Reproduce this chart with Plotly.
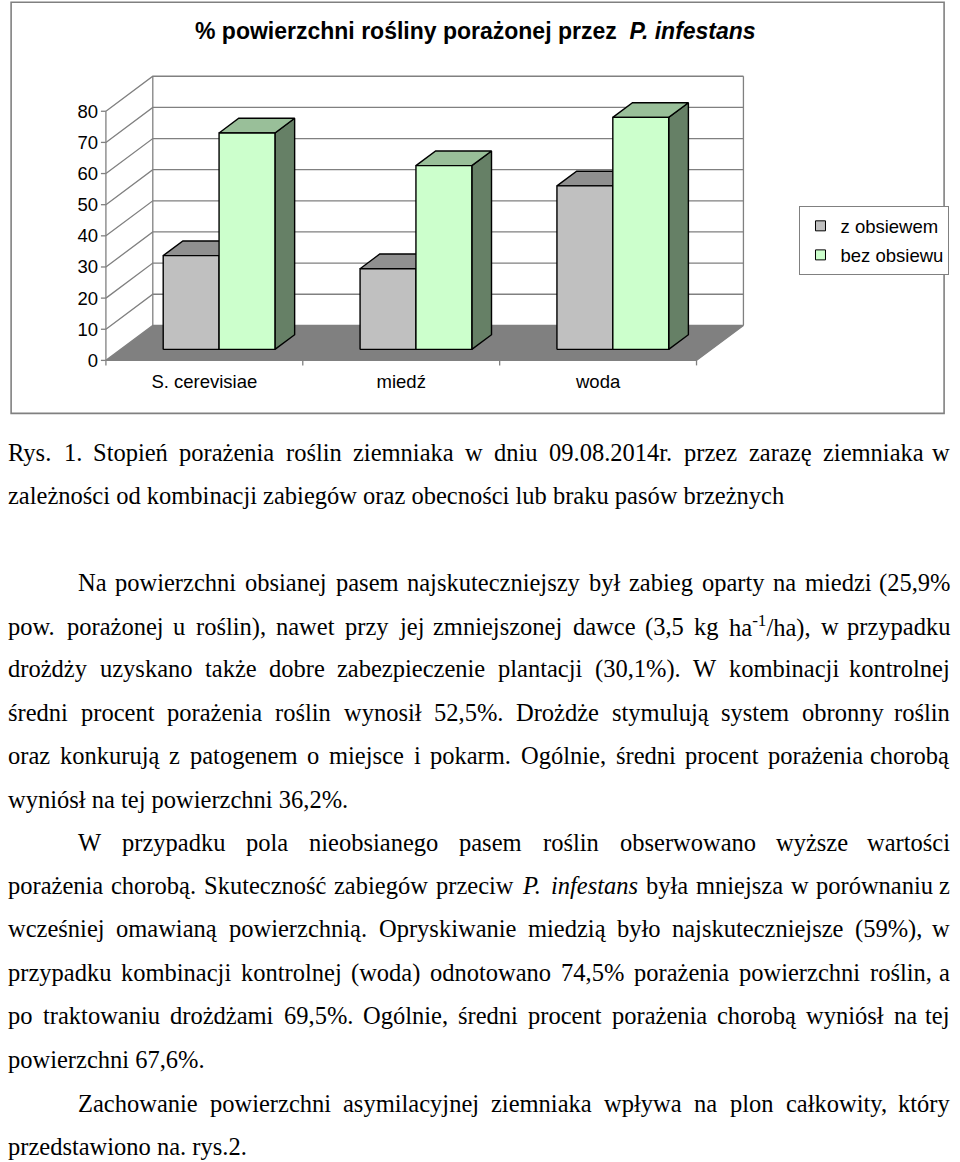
import re
import plotly.graph_objects as go

# ---------------- data ----------------
categories = ["S. cerevisiae", "miedź", "woda"]
series_names = ["z obsiewem", "bez obsiewu"]
z_obsiewem = [30.1, 25.9, 52.5]
bez_obsiewu = [69.5, 59.0, 74.5]
y_ticks = [0, 10, 20, 30, 40, 50, 60, 70, 80]
title_text = "<b>% powierzchni rośliny porażonej przez\u00a0 <i>P. infestans</i></b>"

# body text: (text, indented, justified)
body_lines = [
    ("Rys. 1. Stopień porażenia roślin ziemniaka w dniu 09.08.2014r. przez zarazę ziemniaka w", False, True),
    ("zależności od kombinacji zabiegów oraz obecności lub braku pasów brzeżnych", False, False),
    ("Na powierzchni obsianej pasem najskuteczniejszy był zabieg oparty na miedzi (25,9%", True, True),
    ("pow. porażonej u roślin), nawet przy jej zmniejszonej dawce (3,5 kg ha<sup>-1</sup>/ha), w przypadku", False, True),
    ("drożdży uzyskano także dobre zabezpieczenie plantacji (30,1%). W kombinacji kontrolnej", False, True),
    ("średni procent porażenia roślin wynosił 52,5%. Drożdże stymulują system obronny roślin", False, True),
    ("oraz konkurują z patogenem o miejsce i pokarm. Ogólnie, średni procent porażenia chorobą", False, True),
    ("wyniósł na tej powierzchni 36,2%.", False, False),
    ("W przypadku pola nieobsianego pasem roślin obserwowano wyższe wartości", True, True),
    ("porażenia chorobą. Skuteczność zabiegów przeciw <i>P.</i> <i>infestans</i> była mniejsza w porównaniu z", False, True),
    ("wcześniej omawianą powierzchnią. Opryskiwanie miedzią było najskuteczniejsze (59%), w", False, True),
    ("przypadku kombinacji kontrolnej (woda) odnotowano 74,5% porażenia powierzchni roślin, a", False, True),
    ("po traktowaniu drożdżami 69,5%. Ogólnie, średni procent porażenia chorobą wyniósł na tej", False, True),
    ("powierzchni 67,6%.", False, False),
    ("Zachowanie powierzchni asymilacyjnej ziemniaka wpływa na plon całkowity, który", True, True),
    ("przedstawiono na. rys.2.", False, False),
]
line_centers_px = [452, 495, 582, 626, 668, 712, 755, 799, 842, 885, 928, 972, 1015, 1059, 1103, 1146]

# ---------------- styles / geometry ----------------
W_FIG, H_FIG = 960, 1162
PX_PER_X = 197.3       # pixels per category
PX_PER_Y = 3.1125      # pixels per value unit
X0_PX, Y0_PX = 106, 360
DX, DY = 0.2382, 11.245   # 3D depth of the floor
BAR_W = 0.2838
F0, F1 = 0.314, 0.734     # depth fractions of bar front/back
XMIN, XMAX = -0.03, len(categories) + DX + 0.008
YMIN, YMAX = -1.8, max(y_ticks) + DY + 0.4

ML = X0_PX + XMIN * PX_PER_X
MR = W_FIG - (X0_PX + XMAX * PX_PER_X)
MT = Y0_PX - YMAX * PX_PER_Y
MB = H_FIG - (Y0_PX - YMIN * PX_PER_Y)
PW = W_FIG - ML - MR
PH = H_FIG - MT - MB


def pxx(px):
    return (px - ML) / PW


def pxy(py):
    return (H_FIG - MB - py) / PH


GRID = "#808080"
FLOOR = "#808080"
SERIES_COLORS = [
    dict(front="#C0C0C0", top="#909090", side="#606060"),
    dict(front="#CCFFCC", top="#99BF99", side="#668066"),
]
SANS = "Liberation Sans"
SERIF = "Liberation Serif"
BODY_SIZE = 24.5
CHART_SIZE = 18.5

fig = go.Figure()

ncat = len(categories)

# floor
fig.add_trace(go.Scatter(
    x=[0, ncat, ncat + DX, DX, 0], y=[0, 0, DY, DY, 0],
    fill="toself", fillcolor=FLOOR, mode="lines", line=dict(width=0),
    showlegend=False, hoverinfo="skip"))

# walls: side lines, back gridlines, back wall verticals, axes
gx, gy = [], []
for v in y_ticks:
    gx += [0, DX, ncat + DX, None]
    gy += [v, v + DY, v + DY, None]
gx += [DX, DX, None, ncat + DX, ncat + DX, None]
gy += [DY, max(y_ticks) + DY, None, DY, max(y_ticks) + DY, None]
# front axes
gx += [0, 0, None, 0, ncat, ncat + DX, None]
gy += [max(y_ticks), 0, None, 0, 0, DY, None]
# y tick marks
tick_dx = 5 / PX_PER_X
for v in y_ticks:
    gx += [-tick_dx, 0, None]
    gy += [v, v, None]
# x boundary tick marks
tick_dy = 5 / PX_PER_Y
for b in range(ncat + 1):
    gx += [b, b, None]
    gy += [0, -tick_dy, None]
fig.add_trace(go.Scatter(x=gx, y=gy, mode="lines", line=dict(color=GRID, width=1.3),
                         showlegend=False, hoverinfo="skip"))

# bars
series_values = [z_obsiewem, bez_obsiewu]
dd = F1 - F0
ex, ey = dd * DX, dd * DY
for i in range(ncat):
    for k, vals in enumerate(series_values):
        v = vals[i]
        col = SERIES_COLORS[k]
        x0 = i + 0.5 + (k - 1) * BAR_W + F0 * DX
        x1 = x0 + BAR_W
        yb = F0 * DY
        yt = yb + v
        faces = [
            ([x1, x1 + ex, x1 + ex, x1, x1], [yb, yb + ey, yt + ey, yt, yb], col["side"]),
            ([x0, x1, x1 + ex, x0 + ex, x0], [yt, yt, yt + ey, yt + ey, yt], col["top"]),
            ([x0, x1, x1, x0, x0], [yb, yb, yt, yt, yb], col["front"]),
        ]
        for fx, fy, fc in faces:
            fig.add_trace(go.Scatter(
                x=fx, y=fy, fill="toself", fillcolor=fc, mode="lines",
                line=dict(color="black", width=1.4), showlegend=False,
                name=series_names[k], hoverinfo="skip"))

# legend entries
for k, nm in enumerate(series_names):
    fig.add_trace(go.Scatter(
        x=[None], y=[None], mode="markers", name=nm, legendgroup=nm,
        marker=dict(symbol="square", size=10, color=SERIES_COLORS[k]["front"],
                    line=dict(color="black", width=1))))

# ---------------- text width helpers (Times metrics) ----------------
ROMAN = {' ': 250, 'a': 444, 'b': 500, 'c': 444, 'd': 500, 'e': 444, 'f': 333, 'g': 500,
         'h': 500, 'i': 278, 'j': 278, 'k': 500, 'l': 278, 'm': 778, 'n': 500, 'o': 500,
         'p': 500, 'q': 500, 'r': 333, 's': 389, 't': 278, 'u': 500, 'v': 500, 'w': 722,
         'x': 500, 'y': 500, 'z': 444, 'A': 722, 'B': 667, 'C': 667, 'D': 722, 'E': 611,
         'F': 556, 'G': 722, 'H': 722, 'I': 333, 'J': 389, 'K': 722, 'L': 611, 'M': 889,
         'N': 722, 'O': 722, 'P': 556, 'Q': 722, 'R': 667, 'S': 556, 'T': 611, 'U': 722,
         'V': 722, 'W': 944, 'X': 722, 'Y': 722, 'Z': 611, '.': 250, ',': 250, '(': 333,
         ')': 333, '%': 833, '/': 278, '-': 333, ':': 278, 'ł': 278, 'Ł': 611}
for d in "0123456789":
    ROMAN[d] = 500
ACC = {'ą': 'a', 'ę': 'e', 'ń': 'n', 'ó': 'o', 'ś': 's', 'ź': 'z', 'ż': 'z', 'ć': 'c',
       'Ś': 'S', 'Ż': 'Z', 'Ó': 'O'}
ITALIC = {'P': 611, '.': 250, 'i': 278, 'n': 500, 'f': 278, 'e': 444, 's': 389, 't': 278,
          'a': 500}


def word_width(word, size):
    total = 0.0
    italic = sup = False
    for tok in re.split(r'(<[^>]+>)', word):
        if tok == '<i>':
            italic = True
        elif tok == '</i>':
            italic = False
        elif tok == '<sup>':
            sup = True
        elif tok == '</sup>':
            sup = False
        else:
            for ch in tok:
                c = ACC.get(ch, ch)
                w = ITALIC.get(c) if italic else None
                if w is None:
                    w = ROMAN.get(c, 500)
                total += w * (0.7 if sup else 1.0)
    return total / 1000.0 * size


annotations = []
TEXT_L, TEXT_R, INDENT = 7, 953, 77
for (txt, indented, justified), cy in zip(body_lines, line_centers_px):
    left = INDENT if indented else TEXT_L
    font = dict(family=SERIF, size=BODY_SIZE, color="black")
    if not justified:
        annotations.append(dict(text=txt, x=pxx(left), y=pxy(cy), xref="paper", yref="paper",
                                xanchor="left", yanchor="middle", showarrow=False,
                                borderpad=0, font=font))
        continue
    words = txt.split(" ")
    widths = [word_width(w, BODY_SIZE) for w in words]
    gap = (TEXT_R - left - sum(widths)) / (len(words) - 1)
    xpos = left
    for j, (w, wd) in enumerate(zip(words, widths)):
        if j == len(words) - 1:
            annotations.append(dict(text=w, x=pxx(TEXT_R), y=pxy(cy), xref="paper", yref="paper",
                                    xanchor="right", yanchor="middle", showarrow=False,
                                    borderpad=0, font=font))
        else:
            annotations.append(dict(text=w, x=pxx(xpos), y=pxy(cy), xref="paper", yref="paper",
                                    xanchor="left", yanchor="middle", showarrow=False,
                                    borderpad=0, font=font))
        xpos += wd + gap

# chart title
annotations.append(dict(text=title_text, x=pxx(476), y=pxy(31), xref="paper", yref="paper",
                        xanchor="center", yanchor="middle", showarrow=False,
                        font=dict(family=SANS, size=23, color="black")))

shapes = [dict(type="rect", xref="paper", yref="paper",
               x0=pxx(11), x1=pxx(946), y0=pxy(413), y1=pxy(2),
               line=dict(color=GRID, width=1.6))]

fig.update_layout(
    width=W_FIG, height=H_FIG, autosize=False,
    margin=dict(l=ML, r=MR, t=MT, b=MB, pad=0),
    paper_bgcolor="white", plot_bgcolor="white",
    showlegend=True,
    legend=dict(x=pxx(800), y=pxy(206), xanchor="left", yanchor="top",
                bordercolor=GRID, borderwidth=1, bgcolor="white",
                font=dict(family=SANS, size=CHART_SIZE, color="black"),
                itemwidth=30, traceorder="grouped", tracegroupgap=2),
    xaxis=dict(range=[XMIN, XMAX], showgrid=False, zeroline=False, showline=False,
               tickmode="array", tickvals=[i + 0.5 for i in range(ncat)], ticktext=categories,
               ticks="", ticklabelstandoff=2,
               tickfont=dict(family=SANS, size=CHART_SIZE, color="black"), fixedrange=True),
    yaxis=dict(range=[YMIN, YMAX], showgrid=False, zeroline=False, showline=False,
               tickmode="array", tickvals=y_ticks, ticktext=[str(v) for v in y_ticks],
               ticks="", ticklabelstandoff=1,
               tickfont=dict(family=SANS, size=CHART_SIZE, color="black"), fixedrange=True),
    annotations=annotations,
    shapes=shapes,
)

fig.write_html("out.html", config={"displayModeBar": False},
               post_script="document.body.style.margin='0';")
